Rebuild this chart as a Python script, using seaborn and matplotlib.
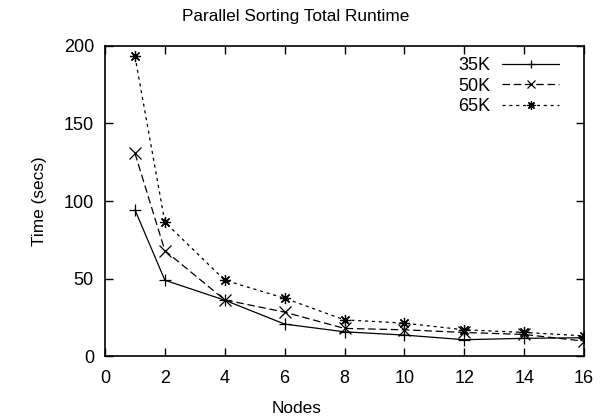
import matplotlib
matplotlib.use("Agg")
import matplotlib.pyplot as plt
import seaborn as sns
import pandas as pd

nodes = [1, 2, 4, 6, 8, 10, 12, 14, 16]
t35 = [94.3, 48.9, 36.0, 20.6, 15.6, 13.5, 10.5, 11.4, 11.8]
t50 = [130.8, 68.0, 36.2, 28.3, 17.8, 16.9, 15.2, 13.9, 9.6]
t65 = [193.4, 86.4, 48.9, 37.3, 23.3, 21.2, 16.9, 15.2, 13.0]
series_names = ["35K", "50K", "65K"]
x_ticks = [0, 2, 4, 6, 8, 10, 12, 14, 16]
y_ticks = [0, 50, 100, 150, 200]

sns.set_style("ticks")
plt.rcParams["font.family"] = ["Liberation Sans", "DejaVu Sans"]
plt.rcParams["text.color"] = "black"
plt.rcParams["axes.labelcolor"] = "black"
plt.rcParams["xtick.color"] = "black"
plt.rcParams["ytick.color"] = "black"

FS = 12.4
TFS = 13

rows = []
for name, vals in zip(series_names, [t35, t50, t65]):
    for n, v in zip(nodes, vals):
        rows.append({"Nodes": n, "Time": v, "Series": name})
df = pd.DataFrame(rows)

fig = plt.figure(figsize=(6.05, 4.19), dpi=100)
ax = fig.add_axes([105/605, 1-356/419, (584-105)/605, (356-46)/419])

styles = {
    "35K": dict(ls="-", marker="+"),
    "50K": dict(ls=(0, (6, 3)), marker="x"),
    "65K": dict(ls=(0, (2.5, 3)), marker=(8, 2, 0)),
}
for name in series_names:
    st = styles[name]
    sns.lineplot(data=df[df["Series"] == name], x="Nodes", y="Time", ax=ax,
                 color="black", linewidth=0.9, linestyle=st["ls"],
                 marker=st["marker"], markersize=8, markeredgewidth=0.9,
                 markeredgecolor="black", label=name)

ax.set_xlim(0, 16)
ax.set_ylim(0, 200)
ax.set_xticks(x_ticks)
ax.set_yticks(y_ticks)
ax.tick_params(direction="in", length=6, width=1, top=True, right=True,
               labelsize=TFS, color="black", labelcolor="black")
ax.tick_params(axis="x", pad=10)
ax.tick_params(axis="y", pad=8)
for sp in ax.spines.values():
    sp.set_visible(True)
    sp.set_linewidth(1.2)
    sp.set_color("black")

ax.set_xlabel("Nodes", fontsize=FS, va="center")
ax.xaxis.set_label_coords((297-105)/479, -(408-356)/310)
ax.set_ylabel("Time (secs)", fontsize=FS, labelpad=12)
fig.text(296/605, 1-17/419, "Parallel Sorting Total Runtime", fontsize=FS,
         ha="center", va="center", color="black")

leg = ax.legend(loc="upper right", frameon=False, markerfirst=False,
                fontsize=TFS, handlelength=3.15, labelspacing=0.2,
                borderaxespad=0, borderpad=0, handletextpad=0.66,
                bbox_to_anchor=((559-105)/479, (356-57)/310))
for h in leg.legend_handles:
    h.set_markersize(6)

fig.savefig("out.png", dpi=100)
